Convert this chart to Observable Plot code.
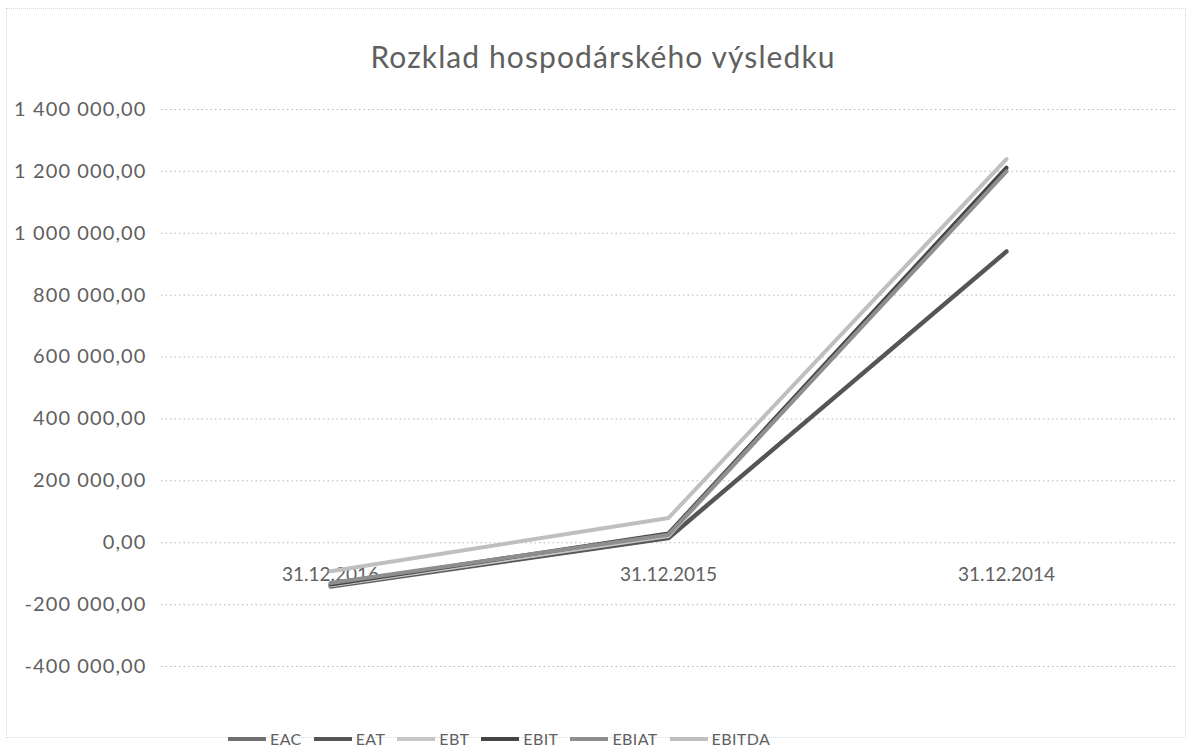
<!DOCTYPE html>
<html>
<head>
<meta charset="utf-8">
<script src="https://cdn.jsdelivr.net/npm/d3@7"></script>
<script src="https://cdn.jsdelivr.net/npm/@observablehq/plot@0.6"></script>
<style>
  body { margin: 0; background: #fff; }
  #wrap { position: relative; width: 1193px; height: 749px; overflow: hidden; font-family: Lato, "Open Sans", sans-serif; }
  #frame { position: absolute; left: 6px; top: 8px; width: 1178px; height: 728px; border: 1px dotted #d8d8d8; }
  #title { position: absolute; top: 38px; left: 340px; width: 526px; text-align: center; font-size: 30px; letter-spacing: 1.1px; color: #606060; white-space: nowrap; font-weight: 400; }
  #chart { position: absolute; left: 0; top: 0; }
  #chart [aria-label="y-axis tick label"] text { letter-spacing: 1.1px; }
  #legend { position: absolute; top: 730px; left: 228px; display: flex; align-items: center; font-size: 16px; letter-spacing: 0.4px; color: #606060; white-space: nowrap; line-height: 18px; }
  .item { display: flex; align-items: center; margin-right: 12px; }
  .sw { width: 38px; height: 4px; margin-right: 4px; }
</style>
</head>
<body>
<div id="wrap">
  <div id="frame"></div>
  <div id="title">Rozklad hospodárského výsledku</div>
  <div id="chart"></div>
  <div id="legend"></div>
</div>
<script>
const categories = ["31.12.2016", "31.12.2015", "31.12.2014"];
const seriesNames = ["EAC", "EAT", "EBT", "EBIT", "EBIAT", "EBITDA"];
const EAC    = [-142000, 14000, 940000];
const EAT    = [-140000, 16000, 942000];
const EBT    = [-138000, 22000, 1205000];
const EBIT   = [-135000, 30000, 1212000];
const EBIAT  = [-130000, 26000, 1200000];
const EBITDA = [-92000, 80000, 1240000];
const seriesColors = ["#707070", "#555555", "#c6c6c6", "#454545", "#8e8e8e", "#bfbfbf"];
const yTicks = [-400000, -200000, 0, 200000, 400000, 600000, 800000, 1000000, 1200000, 1400000];

const valuesBySeries = [EAC, EAT, EBT, EBIT, EBIAT, EBITDA];
const rows = [];
seriesNames.forEach((s, i) => {
  categories.forEach((c, j) => rows.push({series: s, cat: c, value: valuesBySeries[i][j]}));
});

const loc = d3.formatLocale({decimal: ",", thousands: " ", grouping: [3], currency: ["", ""], minus: "-"});
const fmt = loc.format(",.2f");

const chart = Plot.plot({
  width: 1193,
  height: 700,
  marginTop: 109,
  marginBottom: 34,
  marginLeft: 161,
  marginRight: 18,
  style: {fontFamily: "Lato, 'Open Sans', sans-serif", fontSize: "19px", color: "#606060", background: "transparent"},
  x: {type: "point", domain: categories, padding: 0.5, axis: null},
  y: {domain: [-400000, 1400000], ticks: yTicks, tickFormat: fmt, label: null},
  color: {domain: seriesNames, range: seriesColors},
  marks: [
    Plot.gridY(yTicks, {stroke: "#b8b8b8", strokeOpacity: 1, strokeDasharray: "1.5,3"}),
    Plot.axisY(yTicks, {tickSize: 0, tickPadding: 15, tickFormat: fmt, label: null, fill: "#606060", fontSize: 20}),
    Plot.text(categories, {x: d => d, y: () => 0, dy: 32, text: d => d, fill: "#606060", fontSize: 19}),
    Plot.line(rows, {x: "cat", y: "value", z: "series", stroke: "series", strokeWidth: 4, strokeLinejoin: "miter"})
  ]
});
document.getElementById("chart").appendChild(chart);

const legend = document.getElementById("legend");
seriesNames.forEach((s, i) => {
  const it = document.createElement("div");
  it.className = "item";
  const sw = document.createElement("div");
  sw.className = "sw";
  sw.style.background = seriesColors[i];
  const lb = document.createElement("span");
  lb.textContent = s;
  it.appendChild(sw);
  it.appendChild(lb);
  legend.appendChild(it);
});
</script>
</body>
</html>
